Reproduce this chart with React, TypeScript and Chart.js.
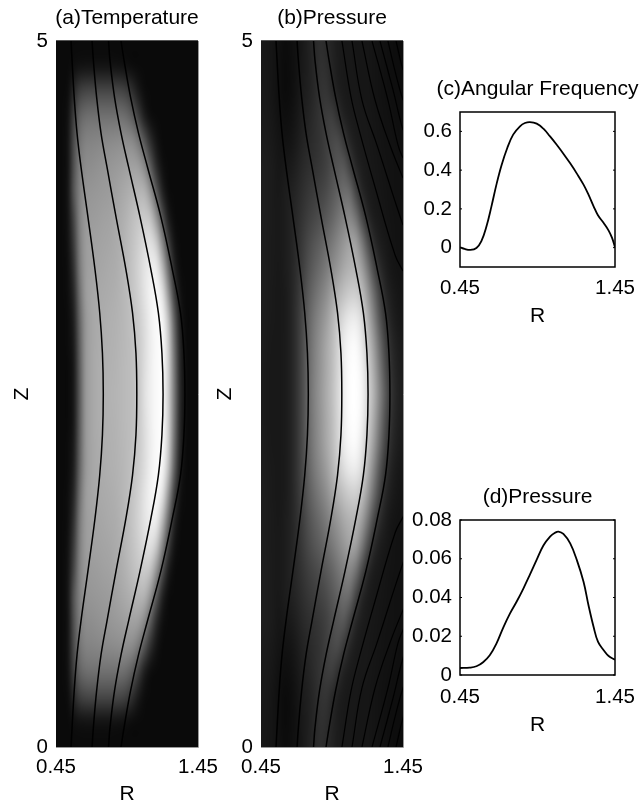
import React, { useEffect, useRef } from "react";
import { Chart, registerables } from "chart.js";

Chart.register(...registerables);

const rGrid = [0.45, 1.45];
const zGrid = [0, 5];

// Gray levels, rows from Z=5 down to the midplane Z=2.5, columns evenly spaced across R
const temperatureRows = [
  [10,10,10,10,10,10,10,10,10,10,10,10,10,10,10,10,10,10,10,10,10,10,10,10,10],
  [10,10,10,14,17,18,18,18,18,18,17,16,14,11,10,10,10,10,10,10,10,10,10,10,10],
  [10,10,13,40,62,70,72,72,72,72,72,70,62,44,24,12,10,10,10,10,10,10,10,10,10],
  [10,10,18,64,98,110,113,113,113,113,113,113,106,90,60,28,13,10,10,10,10,10,10,10,10],
  [10,10,20,75,115,130,132,134,136,138,140,142,142,138,118,84,45,20,10,10,10,10,10,10,10],
  [10,10,20,80,125,140,142,145,148,150,153,156,160,162,158,136,90,42,16,10,10,10,10,10,10],
  [10,10,22,85,130,148,150,152,154,156,160,166,172,178,182,178,145,88,34,12,10,10,10,10,10],
  [10,10,20,70,130,152,155,157,160,162,167,172,180,190,198,203,192,145,80,28,11,10,10,10,10],
  [10,10,18,60,125,155,160,162,164,166,170,175,185,195,207,220,225,200,135,62,20,10,10,10,10],
  [10,10,15,50,120,155,162,165,167,170,172,178,186,198,212,228,238,235,185,105,36,12,10,10,10],
  [10,10,14,40,110,155,165,168,170,172,175,180,187,197,210,228,243,248,225,150,62,18,10,10,10],
  [10,10,12,32,100,150,165,170,172,175,177,181,186,194,205,222,240,250,245,190,95,27,10,10,10],
  [10,10,12,28,95,150,165,171,174,176,178,182,186,192,202,220,238,250,250,205,110,35,11,10,10],
  [10,10,10,25,92,150,165,172,175,177,179,183,187,191,201,222,239,250,250,207,118,38,12,10,10],
  [10,10,10,25,90,150,165,172,175,178,180,183,187,190,200,225,240,250,250,205,120,40,12,10,10],
];

const pressureRows = [
  [24,22,20,16,12,14,18,24,32,40,46,42,34,28,24,24,22,22,22,20,18,16,14,12,12],
  [24,23,20,15,11,13,18,25,31,39,48,46,36,28,25,24,23,22,22,20,18,16,14,13,12],
  [25,24,20,15,11,13,19,27,32,40,50,52,42,31,26,24,24,22,22,20,18,16,15,14,13],
  [26,25,22,17,14,16,22,30,36,44,52,60,62,48,33,27,25,24,23,21,19,17,16,15,14],
  [28,27,24,20,18,20,26,34,40,46,52,62,72,75,58,38,28,25,24,22,20,18,17,16,15],
  [30,29,26,22,24,26,32,40,46,50,56,64,76,86,88,65,40,29,25,23,21,19,18,17,16],
  [30,29,26,24,28,32,38,46,54,60,66,74,86,98,110,105,70,40,28,24,22,20,18,17,16],
  [30,29,26,25,28,34,42,52,62,70,78,88,100,115,128,135,115,75,42,28,24,21,19,18,17],
  [30,28,26,25,28,34,44,58,72,84,94,106,120,135,150,163,160,125,80,45,30,24,20,18,17],
  [30,28,26,24,28,34,46,62,80,95,108,122,138,152,168,178,180,160,120,75,45,30,22,19,18],
  [30,28,25,24,26,34,48,68,90,108,124,140,160,178,192,203,205,190,155,110,68,40,28,22,20],
  [29,27,25,24,26,34,50,72,98,120,138,156,178,200,220,233,235,218,180,135,88,52,34,25,22],
  [29,26,24,24,26,34,50,74,102,126,146,166,186,210,235,248,250,232,198,158,110,68,42,30,25],
  [28,25,24,24,26,34,50,75,104,128,148,168,188,213,238,252,254,242,210,172,125,80,48,33,27],
  [28,25,24,24,26,34,50,75,105,130,150,170,190,215,240,253,255,245,215,180,135,90,52,35,28],
];

// Contours: Z levels and the R of each line, upper half (mirrored about Z=2.5)
const contourZ = [5.0, 4.865, 4.603, 4.348, 4.108, 3.753, 3.378, 3.074, 2.79, 2.5];
const contour1R = [0.556, 0.563, 0.578, 0.598, 0.626, 0.675, 0.725, 0.758, 0.777, 0.783];
const contour2R = [0.704, 0.713, 0.736, 0.767, 0.809, 0.873, 0.943, 0.989, 1.013, 1.019];
const contour3R = [0.82, 0.83, 0.862, 0.908, 0.961, 1.042, 1.119, 1.171, 1.196, 1.204];
const contour4R = [0.908, 0.929, 0.975, 1.031, 1.094, 1.189, 1.27, 1.327, 1.351, 1.358];

// Outer lines of panel (b), which leave through the right edge
const outer5R = [1.02, 1.084, 1.147, 1.253, 1.394, 1.45, 1.5];
const outer5Z = [5, 4.603, 4.348, 3.966, 3.484, 3.371, 3.28];
const outer6R = [1.091, 1.161, 1.267, 1.45, 1.53];
const outer6Z = [5, 4.582, 4.263, 3.697, 3.5];
const outer7R = [1.161, 1.253, 1.358, 1.45, 1.53];
const outer7Z = [5, 4.582, 4.263, 4.03, 3.85];
const outer8R = [1.232, 1.344, 1.415, 1.45, 1.52];
const outer8Z = [5, 4.582, 4.263, 4.171, 4.03];
const outer9R = [1.288, 1.38, 1.45, 1.51];
const outer9Z = [5, 4.653, 4.37, 4.22];
const outer10R = [1.344, 1.401, 1.45, 1.51];
const outer10Z = [5, 4.759, 4.582, 4.43];
const outer11R = [1.401, 1.45, 1.5];
const outer11Z = [5, 4.794, 4.66];

const freqR = [0.45,0.48,0.517,0.556,0.588,0.621,0.653,0.685,0.718,0.755,0.793,0.837,0.869,0.901,0.945,0.988,1.031,1.074,1.117,1.161,1.204,1.247,1.279,1.312,1.34,1.377,1.409,1.431,1.45];
const freqV = [0.002,-0.007,-0.012,-0.002,0.033,0.11,0.213,0.325,0.425,0.514,0.583,0.626,0.643,0.648,0.64,0.614,0.574,0.531,0.485,0.435,0.382,0.325,0.273,0.213,0.167,0.127,0.088,0.05,0.002];

const presR = [0.45,0.513,0.556,0.599,0.642,0.685,0.729,0.772,0.815,0.858,0.901,0.945,0.988,1.031,1.063,1.085,1.117,1.161,1.204,1.247,1.279,1.312,1.34,1.377,1.409,1.45];
const presV = [0.0036,0.0038,0.0045,0.0066,0.0102,0.0162,0.0245,0.0317,0.0378,0.0445,0.0518,0.0595,0.0668,0.0714,0.0734,0.074,0.0728,0.0679,0.0593,0.0481,0.036,0.0248,0.0172,0.0128,0.0098,0.0079];

const FONT = "'Liberation Sans', Arial, sans-serif";
const pts = (xs: number[], ys: number[]) => xs.map((x, i) => ({ x, y: ys[i] }));
const line = (data: { x: number; y: number }[], width: number) => ({
  data,
  borderColor: "#000",
  borderWidth: width,
  pointRadius: 0,
  showLine: true,
  tension: 0.4,
  capBezierPoints: false,
  fill: false,
});
const bothHalves = (r: number[], z: number[]) => {
  const up = pts(r, z);
  const down = up.slice().reverse().map((p) => ({ x: p.x, y: 5 - p.y }));
  return r[r.length - 1] > 1.45 ? [up, down] : [up.concat(down.slice(1))];
};

const heatmapPlugin = (rows: number[][]) => ({
  id: "heatmap",
  beforeDatasetsDraw(chart: any) {
    const all = rows.concat(rows.slice(0, -1).reverse());
    const h = all.length;
    const w = all[0].length;
    const off = document.createElement("canvas");
    off.width = w;
    off.height = h;
    const oc = off.getContext("2d")!;
    const img = oc.createImageData(w, h);
    all.forEach((row, j) =>
      row.forEach((g, i) => {
        const k = (j * w + i) * 4;
        img.data[k] = img.data[k + 1] = img.data[k + 2] = g;
        img.data[k + 3] = 255;
      })
    );
    oc.putImageData(img, 0, 0);
    const { ctx, scales } = chart;
    const x0 = scales.x.getPixelForValue(rGrid[0]);
    const x1 = scales.x.getPixelForValue(rGrid[1]);
    const y0 = scales.y.getPixelForValue(zGrid[1]);
    const y1 = scales.y.getPixelForValue(zGrid[0]);
    ctx.save();
    ctx.imageSmoothingEnabled = true;
    ctx.imageSmoothingQuality = "high";
    ctx.drawImage(off, 0.5, 0.5, w - 1, h - 1, x0, y0, x1 - x0, y1 - y0);
    ctx.restore();
  },
  afterDatasetsDraw(chart: any) {
    const { ctx, chartArea: a } = chart;
    ctx.save();
    ctx.strokeStyle = "#999";
    ctx.lineWidth = 1;
    ctx.beginPath();
    ctx.moveTo(a.left, a.bottom + 0.5);
    ctx.lineTo(a.right + 0.5, a.bottom + 0.5);
    ctx.lineTo(a.right + 0.5, a.top);
    ctx.stroke();
    ctx.strokeStyle = "#555";
    ctx.beginPath();
    ctx.moveTo(a.left, a.top - 0.5);
    ctx.lineTo(a.right, a.top - 0.5);
    ctx.stroke();
    ctx.restore();
  },
});

const framePlugin = {
  id: "frame",
  afterDatasetsDraw(chart: any) {
    const { ctx, chartArea: a, scales } = chart;
    ctx.save();
    ctx.strokeStyle = "#000";
    ctx.lineWidth = 1.5;
    ctx.strokeRect(a.left, a.top, a.right - a.left, a.bottom - a.top);
    ctx.lineWidth = 1;
    scales.y.ticks.forEach((t: any) => {
      const y = scales.y.getPixelForValue(t.value);
      ctx.beginPath();
      ctx.moveTo(a.left, y);
      ctx.lineTo(a.left + 2, y);
      ctx.moveTo(a.right, y);
      ctx.lineTo(a.right - 2, y);
      ctx.stroke();
    });
    ctx.restore();
  },
};

type Panel = {
  title: string;
  box: [number, number, number, number];
  yWidth: number;
  titleTop: number;
  titleBottom: number;
  xTickPad: number;
  rPad: number;
  yTicks: number[];
  yMin: number;
  yMax: number;
  xTicks: number[];
  zTitlePad?: number;
  datasets: any[];
  plugin: any;
};

function PanelChart({ p }: { p: Panel }) {
  const ref = useRef<HTMLCanvasElement>(null);
  useEffect(() => {
    const tickFont = { family: FONT, size: 20.5, weight: "normal" };
    const titleFont = { family: FONT, size: 21, weight: "normal" };
    const chart = new Chart(ref.current!, {
      type: "scatter",
      data: { datasets: p.datasets },
      plugins: [p.plugin],
      options: {
        animation: false,
        responsive: false,
        layout: { padding: 0 },
        plugins: {
          legend: { display: false },
          tooltip: { enabled: false },
          title: {
            display: true,
            text: p.title,
            color: "#000",
            font: titleFont,
            padding: { top: p.titleTop, bottom: p.titleBottom },
          },
        },
        scales: {
          x: {
            type: "linear",
            min: 0.45,
            max: 1.45,
            grid: { display: false, drawTicks: false },
            border: { display: false },
            ticks: {
              color: "#000",
              font: tickFont,
              padding: p.xTickPad,
              maxRotation: 0,
              autoSkip: false,
              callback: (v: any) => String(v),
            },
            afterBuildTicks: (s: any) => {
              s.ticks = p.xTicks.map((value) => ({ value }));
            },
            afterFit: (s: any) => {
              s.height = 70;
            },
            title: {
              display: true,
              text: "R",
              color: "#000",
              font: titleFont,
              padding: { top: 0, bottom: p.rPad },
            },
          },
          y: {
            type: "linear",
            min: p.yMin,
            max: p.yMax,
            grid: { display: false, drawTicks: false },
            border: { display: false },
            ticks: {
              color: "#000",
              font: tickFont,
              padding: 8,
              autoSkip: false,
              callback: (v: any) => String(v),
            },
            afterBuildTicks: (s: any) => {
              s.ticks = p.yTicks.map((value) => ({ value }));
            },
            afterFit: (s: any) => {
              s.width = p.yWidth;
            },
            title: {
              display: p.zTitlePad !== undefined,
              text: "Z",
              color: "#000",
              font: titleFont,
              padding: { top: p.zTitlePad ?? 0, bottom: 0 },
            },
          },
          spacer: {
            type: "linear",
            position: "right",
            grid: { display: false, drawTicks: false },
            border: { display: false },
            ticks: { display: false },
            afterFit: (s: any) => {
              s.width = p.yWidth;
            },
          },
        },
      },
    } as any);
    return () => chart.destroy();
  }, [p]);
  const [left, top, width, height] = p.box;
  return (
    <canvas
      ref={ref}
      width={width}
      height={height}
      style={{ position: "absolute", left, top, width, height }}
    />
  );
}

const innerLines = [contour1R, contour2R, contour3R, contour4R];
const outerLines: [number[], number[]][] = [
  [outer5R, outer5Z],
  [outer6R, outer6Z],
  [outer7R, outer7Z],
  [outer8R, outer8Z],
  [outer9R, outer9Z],
  [outer10R, outer10Z],
  [outer11R, outer11Z],
];

const panels: Panel[] = [
  {
    title: "(a)Temperature",
    box: [0, 0, 254, 817],
    yWidth: 56,
    titleTop: 5.4,
    titleBottom: 10.4,
    xTickPad: 7.7,
    rPad: 10.4,
    yTicks: [0, 5],
    yMin: 0,
    yMax: 5,
    xTicks: [0.45, 1.45],
    zTitlePad: 9.4,
    datasets: innerLines.flatMap((r) => bothHalves(r, contourZ).map((d) => line(d, 1.5))),
    plugin: heatmapPlugin(temperatureRows),
  },
  {
    title: "(b)Pressure",
    box: [205, 0, 254, 817],
    yWidth: 56,
    titleTop: 5.4,
    titleBottom: 10.4,
    xTickPad: 7.7,
    rPad: 10.4,
    yTicks: [0, 5],
    yMin: 0,
    yMax: 5,
    xTicks: [0.45, 1.45],
    zTitlePad: 7.4,
    datasets: [
      ...innerLines.flatMap((r) => bothHalves(r, contourZ).map((d) => line(d, 1.5))),
      ...outerLines.flatMap(([r, z]) => bothHalves(r, z).map((d) => line(d, 1.2))),
    ],
    plugin: heatmapPlugin(pressureRows),
  },
  {
    title: "(c)Angular Frequency",
    box: [410, 70, 255, 267],
    yWidth: 50,
    titleTop: 6.4,
    titleBottom: 10.4,
    xTickPad: 8.7,
    rPad: 8.4,
    yTicks: [0, 0.2, 0.4, 0.6],
    yMin: -0.1,
    yMax: 0.7,
    xTicks: [0.45, 1.45],
    datasets: [line(pts(freqR, freqV), 1.8)],
    plugin: framePlugin,
  },
  {
    title: "(d)Pressure",
    box: [410, 480, 255, 265],
    yWidth: 50,
    titleTop: 4.4,
    titleBottom: 10.4,
    xTickPad: 9.7,
    rPad: 7.4,
    yTicks: [0, 0.02, 0.04, 0.06, 0.08],
    yMin: 0,
    yMax: 0.08,
    xTicks: [0.45, 1.45],
    datasets: [line(pts(presR, presV), 1.8)],
    plugin: framePlugin,
  },
];

export default function App() {
  return (
    <div
      style={{
        position: "fixed",
        left: 0,
        top: 0,
        width: 642,
        height: 806,
        overflow: "hidden",
        background: "#fff",
      }}
    >
      {panels.map((p) => (
        <PanelChart key={p.title} p={p} />
      ))}
    </div>
  );
}
